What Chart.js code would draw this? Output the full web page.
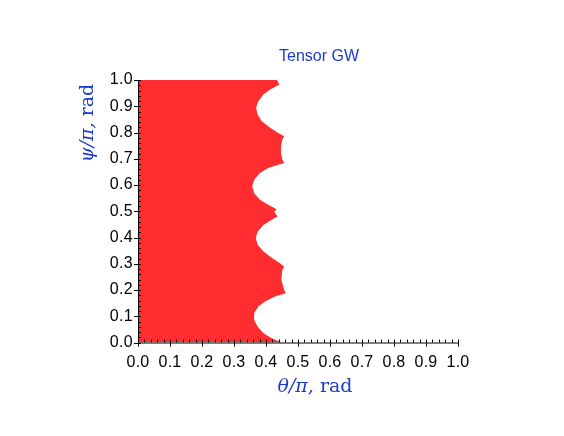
<!DOCTYPE html>
<html>
<head>
<meta charset="utf-8">
<script src="https://cdn.jsdelivr.net/npm/chart.js@4.4.1/dist/chart.umd.min.js"></script>
<style>
  html, body { margin: 0; padding: 0; background: #fff; }
  #wrap { width: 564px; height: 436px; }
</style>
</head>
<body>
<div id="wrap"><canvas id="chart" width="564" height="436"></canvas></div>
<script>
// right-hand edge of the filled region: psi/pi (top to bottom) and theta/pi
const boundaryPsi = [1.000, 0.983, 0.964, 0.945, 0.919, 0.894, 0.868, 0.843, 0.818, 0.798,
    0.786, 0.773, 0.747, 0.722, 0.697, 0.684, 0.677, 0.665, 0.646, 0.620,
    0.595, 0.569, 0.544, 0.525, 0.508, 0.498, 0.480, 0.468, 0.448, 0.423,
    0.398, 0.372, 0.347, 0.321, 0.302, 0.289, 0.277, 0.239, 0.200, 0.188,
    0.175, 0.156, 0.137, 0.111, 0.086, 0.060, 0.035, 0.016, 0.003, 0.000];
const boundaryTheta = [0.434, 0.442, 0.413, 0.392, 0.376, 0.369, 0.374, 0.387, 0.413, 0.438,
    0.457, 0.451, 0.447, 0.447, 0.451, 0.457, 0.438, 0.407, 0.381, 0.363,
    0.357, 0.363, 0.381, 0.407, 0.433, 0.426, 0.436, 0.418, 0.392, 0.374,
    0.368, 0.374, 0.392, 0.420, 0.444, 0.457, 0.451, 0.448, 0.457, 0.462,
    0.428, 0.397, 0.376, 0.363, 0.363, 0.374, 0.392, 0.418, 0.444, 0.456];
const majorTicks = [0, 0.1, 0.2, 0.3, 0.4, 0.5, 0.6, 0.7, 0.8, 0.9, 1.0];
const minorStep = 0.02;

const titleText = 'Tensor GW';
const xLabelParts = [['θ/π,', 'italic'], [' rad', 'normal']];
const yLabelParts = [['ψ/π,', 'italic'], [' rad', 'normal']];

const fillRed = '#ff2d2f';
const labelBlue = '#1a3bcc';

function drawParts(ctx, parts, cx, cy, size) {
    let total = 0;
    parts.forEach(p => {
        ctx.font = p[1] + ' ' + size + 'px "DejaVu Serif"';
        total += ctx.measureText(p[0]).width;
    });
    let x = cx - total / 2;
    ctx.textAlign = 'left';
    ctx.textBaseline = 'alphabetic';
    parts.forEach(p => {
        ctx.font = p[1] + ' ' + size + 'px "DejaVu Serif"';
        ctx.fillText(p[0], x, cy);
        x += ctx.measureText(p[0]).width;
    });
}

// axis line, tick marks and the text around the plot
const decorations = {
    id: 'decorations',
    beforeDraw(chart) {
        chart.ctx.letterSpacing = '0.3px';
    },
    afterDraw(chart) {
        const ctx = chart.ctx;
        const xs = chart.scales.x, ys = chart.scales.y;
        const a = chart.chartArea;
        ctx.save();
        ctx.letterSpacing = '0px';
        ctx.strokeStyle = '#000';
        ctx.lineWidth = 1;
        ctx.beginPath();
        ctx.moveTo(a.left + 0.5, a.top);
        ctx.lineTo(a.left + 0.5, a.bottom + 0.5);
        ctx.lineTo(a.right, a.bottom + 0.5);
        for (let i = 0; i <= 50; i++) {
            const v = i * minorStep;
            const major = i % 5 === 0;
            const px = Math.round(xs.getPixelForValue(v)) + 0.5;
            const py = Math.round(ys.getPixelForValue(v)) + 0.5;
            ctx.moveTo(px, a.bottom - 3);
            ctx.lineTo(px, a.bottom + (major ? 4 : 0));
            ctx.moveTo(a.left + 3, py);
            ctx.lineTo(a.left - (major ? 4 : 0), py);
        }
        ctx.stroke();

        ctx.fillStyle = labelBlue;
        ctx.font = '16px "Liberation Sans"';
        ctx.textAlign = 'center';
        ctx.textBaseline = 'alphabetic';
        ctx.fillText(titleText, 319, 60.5);

        drawParts(ctx, xLabelParts, 315, 392, 19);
        ctx.translate(93, 123);
        ctx.rotate(-Math.PI / 2);
        drawParts(ctx, yLabelParts, 0, 0, 19);
        ctx.restore();
    }
};

new Chart(document.getElementById('chart'), {
    type: 'line',
    data: {
        datasets: [{
            data: boundaryPsi.map((p, i) => ({ x: boundaryTheta[i], y: p })),
            fill: 'origin',
            backgroundColor: fillRed,
            borderColor: fillRed,
            borderWidth: 0,
            pointRadius: 0,
            tension: 0
        }]
    },
    options: {
        indexAxis: 'y',
        responsive: false,
        animation: false,
        layout: { padding: { top: 80, left: 0, right: 106, bottom: 0 } },
        plugins: {
            legend: { display: false },
            tooltip: { enabled: false },
            title: { display: false }
        },
        scales: {
            x: {
                type: 'linear',
                min: 0, max: 1,
                afterFit: s => { s.height = 93.5; },
                afterBuildTicks: s => { s.ticks = majorTicks.map(v => ({ value: v })); },
                grid: { display: false, drawTicks: false },
                border: { display: false },
                ticks: {
                    padding: 10,
                    color: '#000',
                    font: { family: 'Liberation Sans', size: 16 },
                    callback: v => v.toFixed(1)
                }
            },
            y: {
                type: 'linear',
                min: 0, max: 1,
                afterFit: s => { s.width = 138; },
                afterBuildTicks: s => { s.ticks = majorTicks.map(v => ({ value: v })); },
                grid: { display: false, drawTicks: false },
                border: { display: false },
                ticks: {
                    padding: 5,
                    color: '#000',
                    font: { family: 'Liberation Sans', size: 16 },
                    callback: v => v.toFixed(1)
                }
            }
        }
    },
    plugins: [decorations]
});
</script>
</body>
</html>
